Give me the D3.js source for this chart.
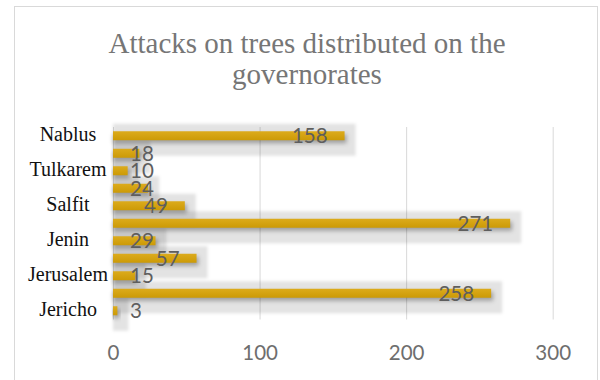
<!DOCTYPE html>
<html>
<head>
<meta charset="utf-8">
<script src="https://cdn.jsdelivr.net/npm/d3@7"></script>
<style>
  html, body { margin: 0; padding: 0; background: #fff; }
  svg { display: block; }
</style>
</head>
<body>
<svg id="chart" width="600" height="380"></svg>
<script>
// Categories in the chart's original (bottom-to-top) order
const categories = ["Jericho", "Hebron", "Jerusalem", "Bethlehem", "Jenin", "Ramallah", "Salfit", "Qalqilya", "Tulkarem", "Tubas", "Nablus"];
const values = [3, 258, 15, 57, 29, 271, 49, 24, 10, 18, 158];
// Only every second category label is shown on the axis
const shownLabels = ["Jericho", "Jerusalem", "Jenin", "Salfit", "Tulkarem", "Nablus"];
const xTicks = [0, 100, 200, 300];
const titleLines = ["Attacks on trees distributed on the", "governorates"];

const data = categories.map((c, i) => ({ cat: c, val: values[i] }));

const svg = d3.select("#chart");
const defs = svg.append("defs");

const grad = defs.append("linearGradient").attr("id", "barGrad")
  .attr("x1", 0).attr("y1", 0).attr("x2", 0).attr("y2", 1);
grad.append("stop").attr("offset", "0%").attr("stop-color", "#dcab1c");
grad.append("stop").attr("offset", "100%").attr("stop-color", "#cc9a06");

defs.append("filter").attr("id", "softBox")
  .attr("x", "-20%").attr("y", "-50%").attr("width", "140%").attr("height", "200%")
  .append("feGaussianBlur").attr("stdDeviation", 1.8);
defs.append("filter").attr("id", "barShadow")
  .attr("x", "-10%").attr("y", "-100%").attr("width", "120%").attr("height", "300%")
  .append("feGaussianBlur").attr("stdDeviation", 2);

// chart border
svg.append("rect")
  .attr("x", 14.5).attr("y", 6.5).attr("width", 583).attr("height", 390)
  .attr("fill", "#fff").attr("stroke", "#d9d9d9").attr("stroke-width", 1);

// title
const title = svg.append("text")
  .attr("text-anchor", "middle")
  .attr("font-family", "'Liberation Serif', 'Times New Roman', serif")
  .attr("font-size", 29)
  .attr("fill", "#767676");
titleLines.forEach((t, i) => {
  title.append("tspan").attr("x", 307).attr("y", 53 + i * 31).text(t);
});

const x = d3.scaleLinear().domain([0, 300]).range([113, 552.7]);
const y = d3.scaleBand()
  .domain(categories.slice().reverse())
  .range([127, 319.5])
  .paddingInner(0.486)
  .paddingOuter(0.243);

// gridlines + value axis labels
const xAxis = d3.axisBottom(x).tickValues(xTicks).tickSize(-(319.5 - 127)).tickFormat(d3.format("d"));
const gx = svg.append("g").attr("transform", "translate(0,319.5)").call(xAxis);
gx.select(".domain").remove();
gx.selectAll(".tick line").attr("stroke", "#d9d9d9").attr("stroke-width", 1);
gx.selectAll(".tick text")
  .attr("font-family", "Lato, 'Open Sans', sans-serif")
  .attr("font-size", 20.5)
  .attr("fill", "#6e6e6e")
  .attr("dy", 0)
  .attr("y", 40.5);

// category axis labels (centered)
const yAxis = d3.axisLeft(y).tickSize(0)
  .tickFormat(d => shownLabels.includes(d) ? d : "");
const gy = svg.append("g").attr("transform", "translate(68,0)").call(yAxis);
gy.select(".domain").remove();
gy.selectAll(".tick text")
  .attr("text-anchor", "middle")
  .attr("x", 0)
  .attr("dy", 0)
  .attr("y", 5)
  .attr("font-family", "'Liberation Serif', 'Times New Roman', serif")
  .attr("font-size", 20)
  .attr("fill", "#111");

const bw = y.bandwidth();

// soft shadow boxes
svg.append("g").selectAll("rect").data(data).join("rect")
  .attr("x", x(0))
  .attr("y", d => y(d.cat) + bw / 2 - 12)
  .attr("width", d => x(d.val) - x(0) + 11)
  .attr("height", 32)
  .attr("fill", "#000")
  .attr("fill-opacity", 0.11)
  .attr("filter", "url(#softBox)");

// bar drop shadows
svg.append("g").selectAll("rect").data(data).join("rect")
  .attr("x", x(0))
  .attr("y", d => y(d.cat) + 3)
  .attr("width", d => x(d.val) - x(0) + 2)
  .attr("height", bw)
  .attr("fill", "#000")
  .attr("fill-opacity", 0.3)
  .attr("filter", "url(#barShadow)");

// bars
svg.append("g").selectAll("rect").data(data).join("rect")
  .attr("x", x(0))
  .attr("y", d => y(d.cat))
  .attr("width", d => x(d.val) - x(0))
  .attr("height", bw)
  .attr("fill", "url(#barGrad)");

// data labels
const labels = svg.append("g").selectAll("text").data(data).join("text")
  .attr("font-family", "Lato, 'Open Sans', sans-serif")
  .attr("font-size", 20.5)
  .attr("fill", "#5e5e5e")
  .attr("y", d => y(d.cat) + bw / 2 + 7.4)
  .text(d => d.val);
labels.each(function (d) {
  const w = this.getComputedTextLength();
  let left = x(d.val) - 17 - w;
  if (left < 130) left = 130;
  d3.select(this).attr("x", left);
});
</script>
</body>
</html>
